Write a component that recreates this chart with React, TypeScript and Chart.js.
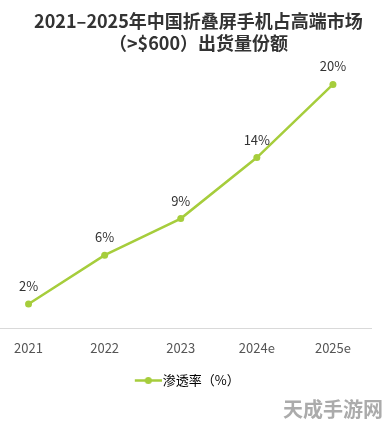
import React, { useEffect, useRef } from "react";
import { Chart, registerables } from "chart.js";

Chart.register(...registerables);

const titleLines = ["2021–2025年中国折叠屏手机占高端市场", "（>$600）出货量份额"];
const categories = ["2021", "2022", "2023", "2024e", "2025e"];
const seriesName = "渗透率（%）";
const penetration = [2, 6, 9, 14, 20];
const valueLabels = ["2%", "6%", "9%", "14%", "20%"];
const watermark = "天成手游网";

const GREEN = "#a6cd3c";
const FONT = "'Noto Sans CJK SC', 'Noto Sans', sans-serif";

function makeLegendMarker() {
  const c = document.createElement("canvas");
  c.width = 49;
  c.height = 9;
  const ctx = c.getContext("2d")!;
  ctx.strokeStyle = GREEN;
  ctx.lineWidth = 2.5;
  ctx.beginPath();
  ctx.moveTo(22, 4.5);
  ctx.lineTo(49, 4.5);
  ctx.stroke();
  ctx.fillStyle = GREEN;
  ctx.beginPath();
  ctx.arc(35.5, 4.5, 3.5, 0, Math.PI * 2);
  ctx.fill();
  return c;
}

const valueLabelPlugin = {
  id: "valueLabels",
  afterDatasetsDraw(chart: any) {
    const { ctx } = chart;
    const meta = chart.getDatasetMeta(0);
    ctx.save();
    ctx.font = `13px ${FONT}`;
    ctx.fillStyle = "#333333";
    ctx.textAlign = "center";
    ctx.textBaseline = "middle";
    meta.data.forEach((pt: any, i: number) => {
      ctx.fillText(valueLabels[i], pt.x, pt.y - 18);
    });
    ctx.restore();
  },
};

export default function App() {
  const ref = useRef<HTMLCanvasElement>(null);
  useEffect(() => {
    if (!ref.current) return;
    const marker = makeLegendMarker();
    const chart = new Chart(ref.current, {
      type: "line",
      data: {
        labels: categories,
        datasets: [
          {
            label: seriesName,
            data: penetration,
            borderColor: GREEN,
            backgroundColor: GREEN,
            borderWidth: 2.5,
            pointRadius: 3.5,
            pointHoverRadius: 3.5,
            pointBackgroundColor: GREEN,
            pointBorderWidth: 0,
            tension: 0,
          },
        ],
      },
      options: {
        responsive: false,
        animation: false,
        layout: { padding: { top: 60, left: 0, right: 20, bottom: 31 } },
        plugins: {
          tooltip: { enabled: false },
          title: { display: false },
          legend: {
            display: true,
            position: "bottom",
            labels: {
              usePointStyle: true,
              pointStyleWidth: 38,
              padding: 6,
              color: "#333333",
              font: { size: 13, family: FONT },
              generateLabels: () => [
                {
                  text: seriesName,
                  pointStyle: marker,
                  fillStyle: GREEN,
                  strokeStyle: GREEN,
                  lineWidth: 0,
                  datasetIndex: 0,
                  hidden: false,
                },
              ],
            },
          },
        },
        scales: {
          x: {
            offset: true,
            grid: { display: false, drawTicks: false },
            border: { display: true, color: "#d9d9d9", width: 1 },
            ticks: {
              padding: 12,
              color: "#555555",
              font: { size: 13, family: FONT },
              maxRotation: 0,
            },
          },
          y: {
            display: false,
            min: 0,
            max: 22,
          },
        },
      },
      plugins: [valueLabelPlugin],
    });
    return () => chart.destroy();
  }, []);

  return (
    <div style={{ position: "absolute", left: 0, top: 0, width: 390, height: 428, overflow: "hidden", background: "#fff" }}>
      <canvas ref={ref} width={404} height={428} style={{ position: "absolute", left: -13.5, top: 0 }} />
      <div
        style={{
          position: "absolute",
          left: 0,
          top: 9,
          width: 397,
          textAlign: "center",
          fontFamily: FONT,
          fontWeight: 700,
          fontSize: 18,
          lineHeight: "22px",
          color: "#333333",
        }}
      >
        <div>{titleLines[0]}</div>
        <div>{titleLines[1]}</div>
      </div>
      <div
        style={{
          position: "absolute",
          left: 283,
          top: 396,
          fontFamily: FONT,
          fontWeight: 700,
          fontSize: 20,
          lineHeight: "26px",
          color: "#ababab",
          whiteSpace: "nowrap",
        }}
      >
        {watermark}
      </div>
    </div>
  );
}
